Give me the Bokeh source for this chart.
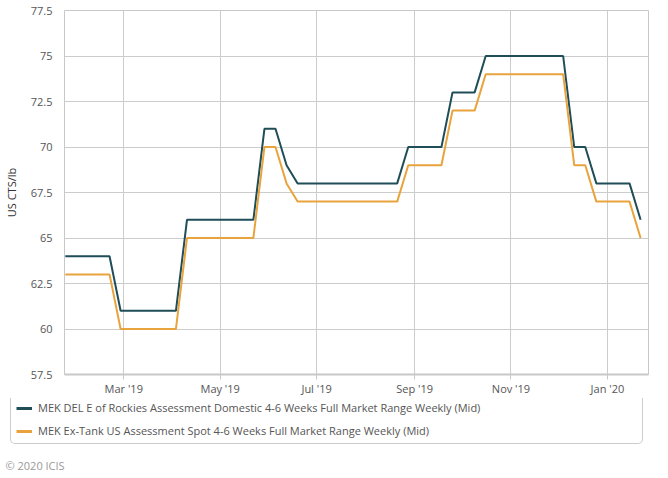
import pandas as pd
from bokeh.plotting import figure
from bokeh.layouts import column
from bokeh.models import (ColumnDataSource, Legend, LegendItem, FixedTicker,
                          DatetimeTickFormatter, NumeralTickFormatter, Range1d, Label)
from bokeh.embed import file_html
from bokeh.resources import INLINE

# ---- data (weekly assessments, US CTS/lb) ----
dates = pd.date_range("2019-01-23", "2020-01-22", freq="7D")
mek_del = [64, 64, 64, 64, 64,
           61, 61, 61, 61, 61, 61,
           66, 66, 66, 66, 66, 66, 66,
           71, 71, 69,
           68, 68, 68, 68, 68, 68, 68, 68, 68, 68,
           70, 70, 70, 70,
           73, 73, 73,
           75, 75, 75, 75, 75, 75, 75, 75,
           70, 70,
           68, 68, 68, 68,
           66]
mek_extank = [63, 63, 63, 63, 63,
              60, 60, 60, 60, 60, 60,
              65, 65, 65, 65, 65, 65, 65,
              70, 70, 68,
              67, 67, 67, 67, 67, 67, 67, 67, 67, 67,
              69, 69, 69, 69,
              72, 72, 72,
              74, 74, 74, 74, 74, 74, 74, 74,
              69, 69,
              67, 67, 67, 67,
              65]
series_names = ["MEK DEL E of Rockies Assessment Domestic 4-6 Weeks Full Market Range Weekly (Mid)",
                "MEK Ex-Tank US Assessment Spot 4-6 Weeks Full Market Range Weekly (Mid)"]
x_tick_dates = ["2019-03-01", "2019-05-01", "2019-07-01", "2019-09-01", "2019-11-01", "2020-01-01"]
y_ticks = [57.5, 60, 62.5, 65, 67.5, 70, 72.5, 75, 77.5]
y_label = "US CTS/lb"
copyright_text = "© 2020 ICIS"

colors = ["#1f4d58", "#e9a33d"]
FONT = "Open Sans"

src = ColumnDataSource(dict(date=dates, a=mek_del, b=mek_extank))

# ---- main chart ----
p = figure(width=668, height=398, x_axis_type="datetime", output_backend="svg",
           toolbar_location=None,
           x_range=Range1d(pd.Timestamp("2019-01-22 12:00"), pd.Timestamp("2020-01-27")),
           y_range=Range1d(57.5, 77.5),
           min_border_left=63, min_border_right=20, min_border_top=10, min_border_bottom=24)
p.frame_align = False
p.background_fill_color = "white"
p.border_fill_color = "white"
p.outline_line_color = "#c8c8c8"

r1 = p.line("date", "a", source=src, line_color=colors[0], line_width=2)
r2 = p.line("date", "b", source=src, line_color=colors[1], line_width=2)

xt = [pd.Timestamp(d).value / 1e6 for d in x_tick_dates]
p.xaxis.ticker = FixedTicker(ticks=xt)
fmt = "%b '%y"
p.xaxis.formatter = DatetimeTickFormatter(milliseconds=fmt, seconds=fmt, minsec=fmt, minutes=fmt,
                                          hourmin=fmt, hours=fmt, days=fmt, months=fmt, years=fmt)
p.xaxis.axis_line_color = "#c8c8c8"
p.xaxis.axis_line_width = 2
p.xaxis.major_tick_line_color = "#c8c8c8"
p.xaxis.major_tick_out = 5
p.xaxis.major_tick_in = 0
p.xaxis.minor_tick_line_color = None
p.xaxis.major_label_text_font = FONT
p.xaxis.major_label_text_font_size = "11px"
p.xaxis.major_label_text_color = "#555555"
p.xaxis.major_label_standoff = 1

p.yaxis.ticker = FixedTicker(ticks=y_ticks)
p.yaxis.formatter = NumeralTickFormatter(format="0.[0]")
p.yaxis.axis_line_color = None
p.yaxis.major_tick_line_color = None
p.yaxis.minor_tick_line_color = None
p.yaxis.major_label_text_font = FONT
p.yaxis.major_label_text_font_size = "11px"
p.yaxis.major_label_text_color = "#555555"
p.yaxis.major_label_standoff = 6
p.yaxis.axis_label = y_label
p.yaxis.axis_label_text_font = FONT
p.yaxis.axis_label_text_font_size = "11px"
p.yaxis.axis_label_text_font_style = "normal"
p.yaxis.axis_label_text_color = "#333333"
p.yaxis.axis_label_standoff = 9

p.xgrid.grid_line_color = "#cccccc"
p.ygrid.grid_line_color = "#cccccc"

# ---- legend + credits strip ----
q = figure(width=668, height=80, output_backend="svg", toolbar_location=None,
           x_range=Range1d(0, 668), y_range=Range1d(80, 0),
           min_border=0, min_border_left=0, min_border_right=0,
           min_border_top=0, min_border_bottom=0)
q.frame_align = False
q.axis.visible = False
q.grid.visible = False
q.outline_line_color = None
q.background_fill_color = "white"
q.border_fill_color = "white"

# legend swatches only (placed outside the visible range)
l1 = q.line(x=[-20, -10], y=[-20, -20], line_color=colors[0], line_width=3)
l2 = q.line(x=[-20, -10], y=[-20, -20], line_color=colors[1], line_width=3)

legend = Legend(items=[LegendItem(label=series_names[0], renderers=[l1]),
                       LegendItem(label=series_names[1], renderers=[l2])],
                location=(10, 34), orientation="vertical",
                padding=5, spacing=8, margin=0,
                glyph_width=16, glyph_height=14, label_height=14, label_width=599,
                label_standoff=6,
                label_text_font=FONT, label_text_font_size="11px",
                label_text_color="#555555",
                border_line_color="#999999", border_line_width=1,
                background_fill_color="white", background_fill_alpha=1)
if "border_radius" in Legend.properties():
    legend.border_radius = 5
q.add_layout(legend)

q.add_layout(Label(x=5, y=67, text=copyright_text,
                   text_font=FONT, text_font_size="11px", text_color="#999999",
                   text_baseline="middle"))

layout = column(p, q, spacing=0)
open("out.html", "w").write(file_html(layout, INLINE))
